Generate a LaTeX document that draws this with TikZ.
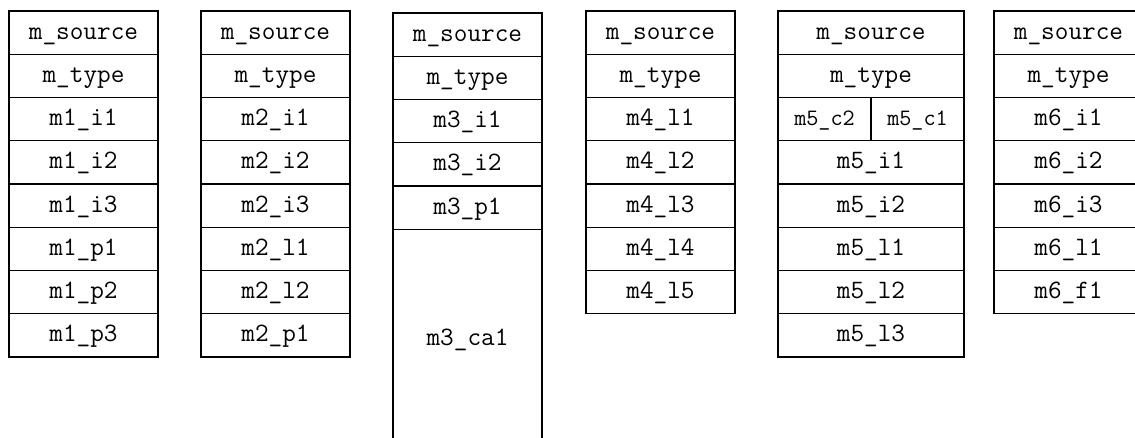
\documentclass[tikz,border=0pt]{standalone}
\usepackage{fontspec}
\tikzset{
  cell/.style={draw, line width=1.3pt, inner sep=0pt, outer sep=0pt,
    minimum height=43.25pt, text height=16pt, text depth=3pt,
    font=\ttfamily\fontsize{26.5}{30}\selectfont, anchor=north west},
  narrow/.style={cell, minimum width=149pt},
  wide/.style={cell, minimum width=186pt},
  half/.style={cell, minimum width=93pt, font=\ttfamily\fontsize{23.5}{28}\selectfont},
}
\begin{document}
\begin{tikzpicture}[x=1pt, y=-1pt]
  \useasboundingbox (0,0) rectangle (1135,437);
  \clip (0,0) rectangle (1135,437);

  % first record
  \foreach \lab [count=\r from 0] in {m\_source, m\_type, m1\_i1, m1\_i2, m1\_i3, m1\_p1, m1\_p2, m1\_p3}
    \node[narrow] (a\r) at (9, {11+\r*43.25}) {\lab};

  % second record
  \foreach \lab [count=\r from 0] in {m\_source, m\_type, m2\_i1, m2\_i2, m2\_i3, m2\_l1, m2\_l2, m2\_p1}
    \node[narrow] (b\r) at (201, {11+\r*43.25}) {\lab};

  % third record, with one tall last field
  \foreach \lab [count=\r from 0] in {m\_source, m\_type, m3\_i1, m3\_i2, m3\_p1}
    \node[narrow] (c\r) at (393, {13+\r*43.25}) {\lab};
  \node[narrow, minimum height=220pt] (c5) at (393, 229.25) {m3\_ca1};

  % fourth record
  \foreach \lab [count=\r from 0] in {m\_source, m\_type, m4\_l1, m4\_l2, m4\_l3, m4\_l4, m4\_l5}
    \node[narrow] (d\r) at (586, {11+\r*43.25}) {\lab};

  % fifth record, with a split third row
  \foreach \lab [count=\r from 0] in {m\_source, m\_type}
    \node[wide] (e\r) at (778, {11+\r*43.25}) {\lab};
  \node[half] (e2l) at (778, 97.5) {m5\_c2};
  \node[half] (e2r) at (871, 97.5) {m5\_c1};
  \foreach \lab [count=\r from 3] in {m5\_i1, m5\_i2, m5\_l1, m5\_l2, m5\_l3}
    \node[wide] (e\r) at (778, {11+\r*43.25}) {\lab};

  % sixth record
  \foreach \lab [count=\r from 0] in {m\_source, m\_type, m6\_i1, m6\_i2, m6\_i3, m6\_l1, m6\_f1}
    \node[narrow] (f\r) at (994, {11+\r*43.25}) {\lab};
\end{tikzpicture}
\end{document}
